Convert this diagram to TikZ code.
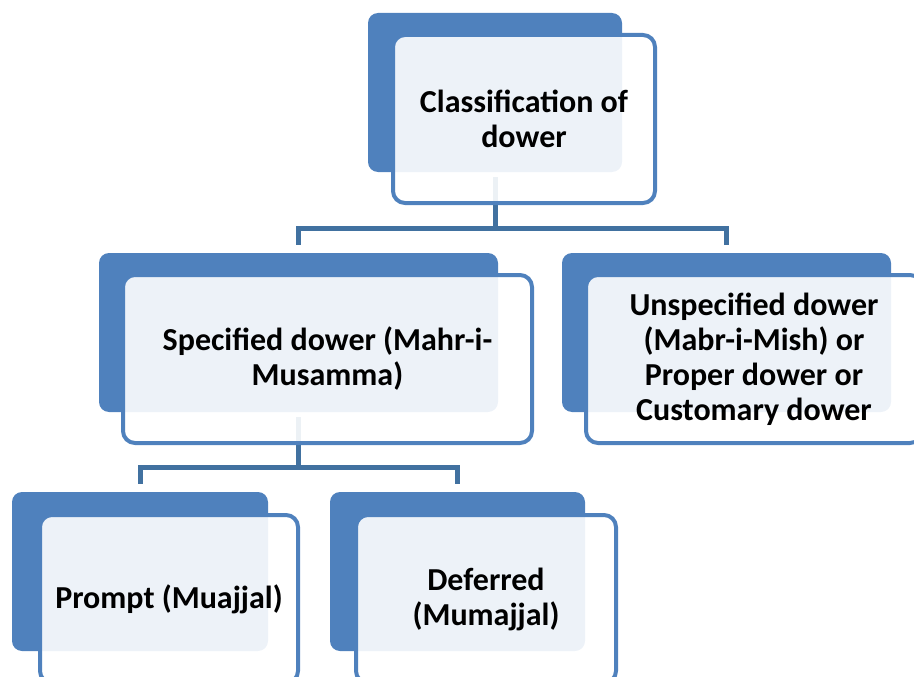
\documentclass[tikz,border=0pt]{standalone}
\usepackage{fontspec}
\setmainfont{Carlito}
\usetikzlibrary{positioning}
\definecolor{boxblue}{RGB}{79,129,189}
\definecolor{linkblue}{RGB}{65,113,160}

\begin{document}
\begin{tikzpicture}[x=1pt,y=-1pt,
	backbox/.style={fill=boxblue,rounded corners=10pt,minimum height=159pt,inner sep=0pt},
	frontbox/.style={draw=boxblue,line width=4pt,fill=white,fill opacity=0.9,text opacity=1,
		rounded corners=12pt,minimum height=168pt,inner sep=0pt,align=center,
		font=\fontsize{32}{35}\selectfont\bfseries},
	link/.style={draw=linkblue,line width=5pt,shorten <=5pt,shorten >=8pt}]

\useasboundingbox (0,0) rectangle (914,677);
\clip (0,0) rectangle (914,677);

% back plates
\node[backbox,minimum width=254pt] (dowerback) at (495,92.5) {};
\node[backbox,minimum width=399pt] (specback) at (298.5,332.5) {};
\node[backbox,minimum width=329pt] (unspecback) at (726.5,332.5) {};
\node[backbox,minimum width=256pt] (promptback) at (140,571.5) {};
\node[backbox,minimum width=255pt] (deferback) at (457.5,571.5) {};

% connectors
\draw[link] (dowerback.south) -- ++(0,56) -| (specback.north);
\draw[link] (dowerback.south) -- ++(0,56) -| (unspecback.north);
\draw[link] (specback.south) -- ++(0,55) -| (promptback.north);
\draw[link] (specback.south) -- ++(0,55) -| (deferback.north);

% front frames with text
\node[frontbox,minimum width=262pt] (dower) at ([shift={(29,26.5)}]dowerback.center)
	{Classification of\\dower};
\node[frontbox,minimum width=409pt] (spec) at ([shift={(29,26.5)}]specback.center)
	{Specified dower (Mahr-i-\\Musamma)};
\node[frontbox,minimum width=336pt] (unspec) at ([shift={(27.5,26.5)}]unspecback.center)
	{Unspecified dower\\(Mabr-i-Mish) or\\Proper dower or\\Customary dower};
\node[frontbox,minimum width=258pt] (prompt) at ([shift={(29,27.5)}]promptback.center)
	{Prompt (Muajjal)};
\node[frontbox,minimum width=260pt] (defer) at ([shift={(28.5,27.5)}]deferback.center)
	{Deferred\\(Mumajjal)};

\end{tikzpicture}
\end{document}
